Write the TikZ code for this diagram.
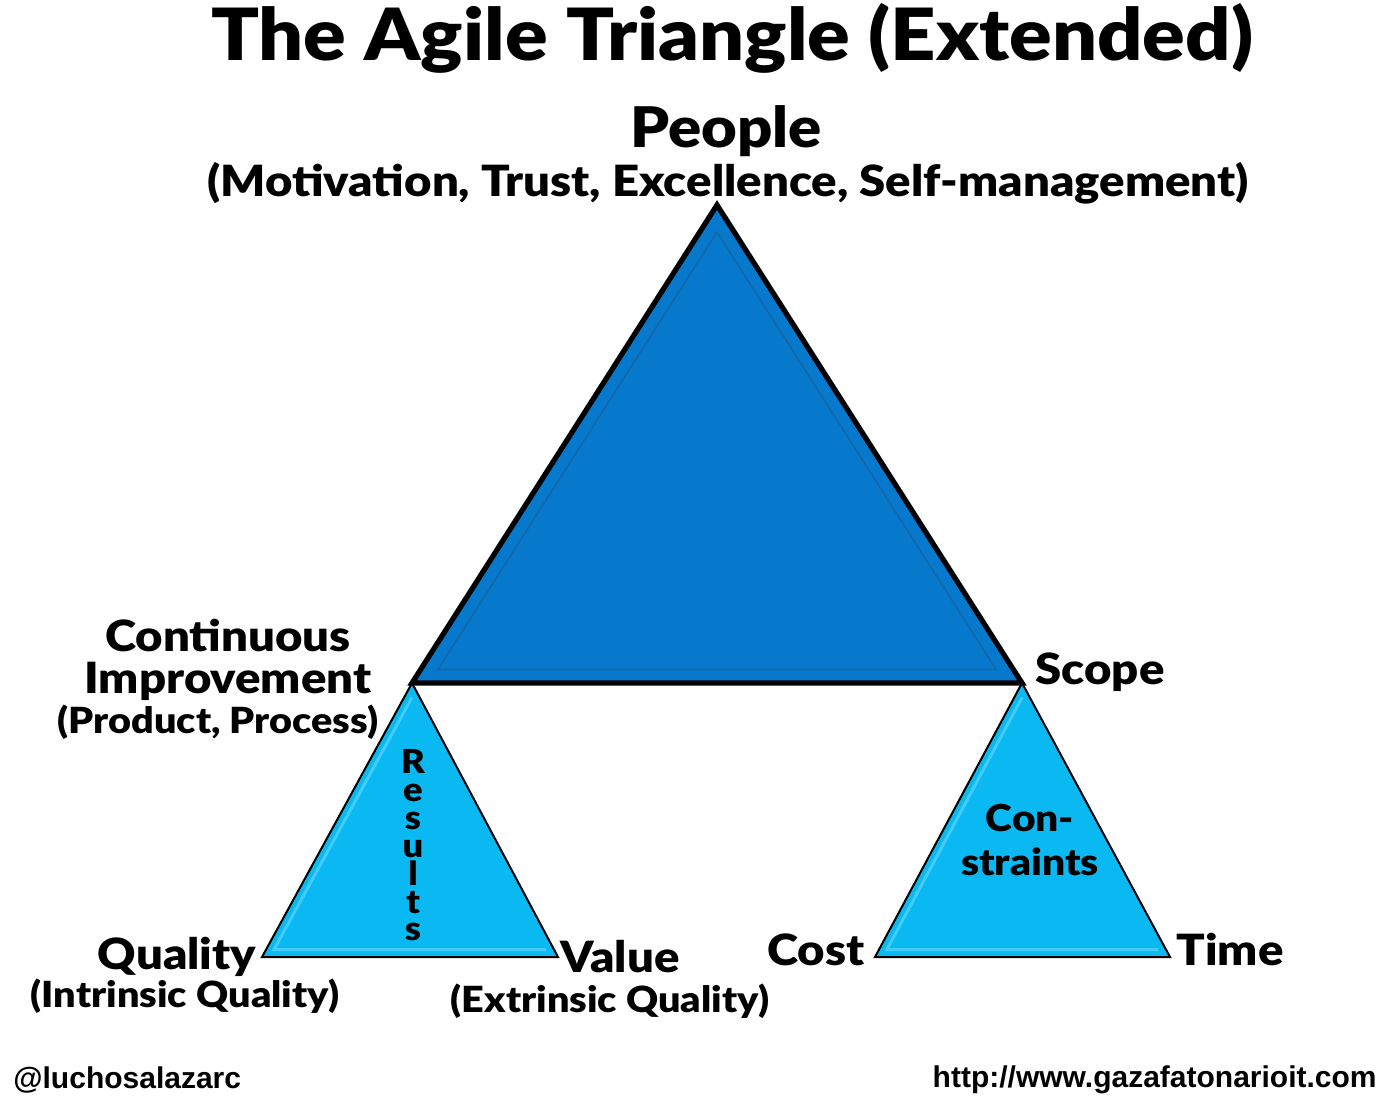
\documentclass[tikz,border=0pt]{standalone}
\usepackage{fontspec}
\setmainfont{Lato}[BoldFont={Lato Black}, FakeStretch=1.1]
\newfontfamily\footfont{Liberation Sans}
\usetikzlibrary{calc}
\definecolor{bigblue}{HTML}{0779CC}
\definecolor{bigline}{HTML}{1568A8}
\definecolor{smallblue}{HTML}{0BB9F2}
\definecolor{bevel}{HTML}{6FDCFF}
\begin{document}
\begin{tikzpicture}[x=0.5pt,y=-0.5pt,
  txt/.style={inner sep=0pt, font=\bfseries\fontsize{21.5}{24}\selectfont},
  subtxt/.style={inner sep=0pt, font=\bfseries\fontsize{18}{20}\selectfont},
  letter/.style={inner sep=0pt, anchor=base, font=\bfseries\fontsize{16.5}{18}\selectfont},
  foot/.style={inner sep=0pt, font=\footfont\bfseries\fontsize{15}{17}\selectfont},
  bigtri/.style={fill=bigblue, draw=black, line width=2.6pt, line join=miter},
  smalltri/.style={fill=smallblue, draw=black, line width=1pt, line join=miter},
  innerline/.style={draw=bigline, line width=0.8pt},
  bevelline/.style={draw=bevel, line width=1.5pt, opacity=0.55}]
\useasboundingbox (0,0) rectangle (1397,1106);

% big triangle
\coordinate (P) at (717,205);
\coordinate (CI) at (412,683);
\coordinate (S) at (1022,683);
\coordinate (bc) at (717,523.7);
\draw[bigtri] (P) -- (CI) -- (S) -- cycle;
\draw[innerline] ($(bc)!0.915!(P)$) -- ($(bc)!0.915!(CI)$) -- ($(bc)!0.915!(S)$) -- cycle;

% left small triangle
\coordinate (Q) at (262,957);
\coordinate (V) at (558,957);
\coordinate (lc) at (410.7,865.7);
\draw[smalltri] (CI) -- (Q) -- (V) -- cycle;
\draw[bevelline] ($(lc)!0.92!(V)$) -- ($(lc)!0.92!(Q)$) -- ($(lc)!0.92!(CI)$);

% right small triangle
\coordinate (C) at (875,957);
\coordinate (T) at (1170,957);
\coordinate (rc) at (1022.3,865.7);
\draw[smalltri] (S) -- (C) -- (T) -- cycle;
\draw[bevelline] ($(rc)!0.92!(T)$) -- ($(rc)!0.92!(C)$) -- ($(rc)!0.92!(S)$);

% title and labels
\node[inner sep=0pt, font=\bfseries\fontsize{36}{40}\selectfont] (title) at (732,38) {The Agile Triangle (Extended)};
\node[inner sep=0pt, font=\bfseries\fontsize{28}{30}\selectfont] (people) at (726,131) {People};
\node[inner sep=0pt, font=\bfseries\fontsize{21.5}{24}\selectfont] (peoplesub) at (728,183) {(Motivation, Trust, Excellence, Self-management)};

\node[txt] (cont1) at (228,636) {Continuous};
\node[txt] (cont2) at (228,681) {Improvement};
\node[subtxt] (cont3) at (218,722) {(Product, Process)};

\node[txt] (scope) at (1100,672) {Scope};

\node[letter] (r1) at (413,773) {R};
\node[letter] (r2) at (413,801) {e};
\node[letter] (r3) at (413,829) {s};
\node[letter] (r4) at (413,857) {u};
\node[letter] (r5) at (413,885) {l};
\node[letter] (r6) at (413,913) {t};
\node[letter] (r7) at (413,940) {s};

\node[subtxt, font=\bfseries\fontsize{18.5}{20}\selectfont] (con1) at (1030,818) {Con-};
\node[subtxt, font=\bfseries\fontsize{18.5}{20}\selectfont] (con2) at (1030,862) {straints};

\node[txt] (quality) at (177,957) {Quality};
\node[subtxt] (qualsub) at (185,996) {(Intrinsic Quality)};
\node[txt] (value) at (620,957) {Value};
\node[subtxt] (valsub) at (610,1001) {(Extrinsic Quality)};
\node[txt] (cost) at (816,950) {Cost};
\node[txt] (time) at (1230,950) {Time};

\node[foot, anchor=west] (handle) at (13,1080) {@luchosalazarc};
\node[foot, anchor=east] (url) at (1377,1080) {http://www.gazafatonarioit.com};
\end{tikzpicture}
\end{document}
